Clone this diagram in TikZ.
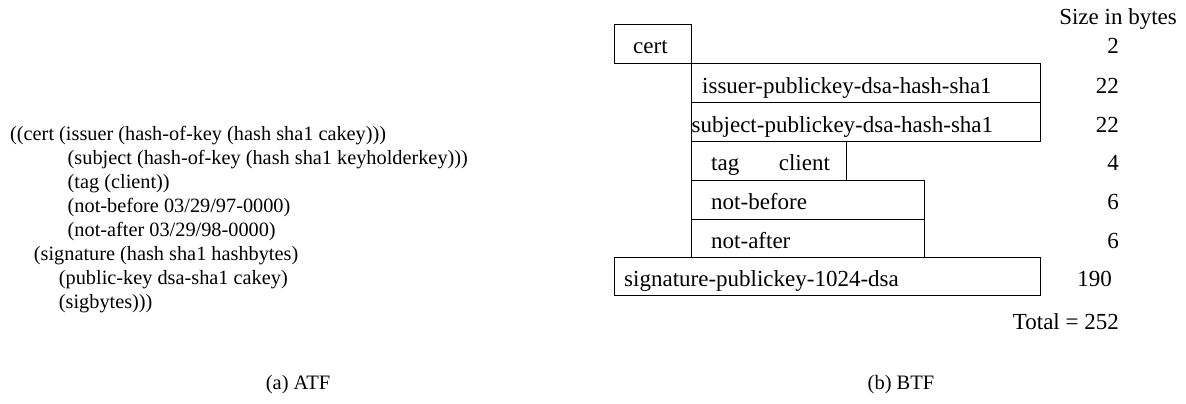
\documentclass[tikz,border=0pt]{standalone}
\usepackage{fontspec}
\setmainfont{Liberation Serif}
\begin{document}
\begin{tikzpicture}[x=1pt,y=-1pt,
  box/.style={draw,line width=1.1pt,inner sep=0pt,anchor=north west},
  txt/.style={inner sep=0pt,anchor=base west,font=\fontsize{23}{28}\selectfont},
  atf/.style={inner sep=0pt,anchor=base west,font=\fontsize{20.3}{24}\selectfont},
  num/.style={inner sep=0pt,anchor=base east,font=\fontsize{23}{28}\selectfont},
  captxt/.style={inner sep=0pt,anchor=base,font=\fontsize{20.5}{24}\selectfont}]
\useasboundingbox (0,0) rectangle (1186,404);
% (a) ATF text
\node[atf] (l1) at (10,140) {((cert (issuer (hash-of-key (hash sha1 cakey)))};
\node[atf] (l2) at (67.5,164) {(subject (hash-of-key (hash sha1 keyholderkey)))};
\node[atf] (l3) at (67.5,188) {(tag (client))};
\node[atf] (l4) at (67.5,212) {(not-before 03/29/97-0000)};
\node[atf] (l5) at (67.5,236) {(not-after 03/29/98-0000)};
\node[atf] (l6) at (33.7,260) {(signature (hash sha1 hashbytes)};
\node[atf] (l7) at (58.7,284) {(public-key dsa-sha1 cakey)};
\node[atf] (l8) at (58.7,308) {(sigbytes)))};
\node[captxt] (capa) at (298,389) {(a) ATF};
% (b) BTF boxes
\node[box,minimum width=77.3pt,minimum height=39pt] (cert) at (614,24.3) {};
\node[box,minimum width=348.2pt,minimum height=39pt] (issuer) at (691.3,63.3) {};
\node[box,minimum width=348.2pt,minimum height=38.7pt] (subject) at (691.3,102.3) {};
\node[box,minimum width=154.7pt,minimum height=39pt] (tag) at (691.3,141) {};
\node[box,minimum width=232.7pt,minimum height=38.7pt] (nb) at (691.3,180) {};
\node[box,minimum width=232.7pt,minimum height=38.3pt] (na) at (691.3,218.7) {};
\node[box,minimum width=425.5pt,minimum height=38.3pt] (sig) at (614,257) {};
% box texts
\node[txt] (tcert) at (633,54) {cert};
\node[txt] (tissuer) at (702,93) {issuer-publickey-dsa-hash-sha1};
\node[txt] (tsubject) at (691.5,132) {subject-publickey-dsa-hash-sha1};
\node[txt] (ttag) at (711,170.7) {tag};
\node[txt] (tclient) at (778.6,170.7) {client};
\node[txt] (tnb) at (711,209.7) {not-before};
\node[txt] (tna) at (711,248.4) {not-after};
\node[txt] (tsig) at (624,286.7) {signature-publickey-1024-dsa};
% sizes
\node[num] (hdr) at (1177,25) {Size in bytes};
\node[num] (n1) at (1119,54) {2};
\node[num] (n2) at (1119,93) {22};
\node[num] (n3) at (1119,132) {22};
\node[num] (n4) at (1119,170.7) {4};
\node[num] (n5) at (1119,209.7) {6};
\node[num] (n6) at (1119,248.4) {6};
\node[num] (n7) at (1112,286.7) {190};
\node[num] (tot) at (1119,329) {Total = 252};
\node[captxt] (capb) at (901,389) {(b) BTF};
\end{tikzpicture}
\end{document}
